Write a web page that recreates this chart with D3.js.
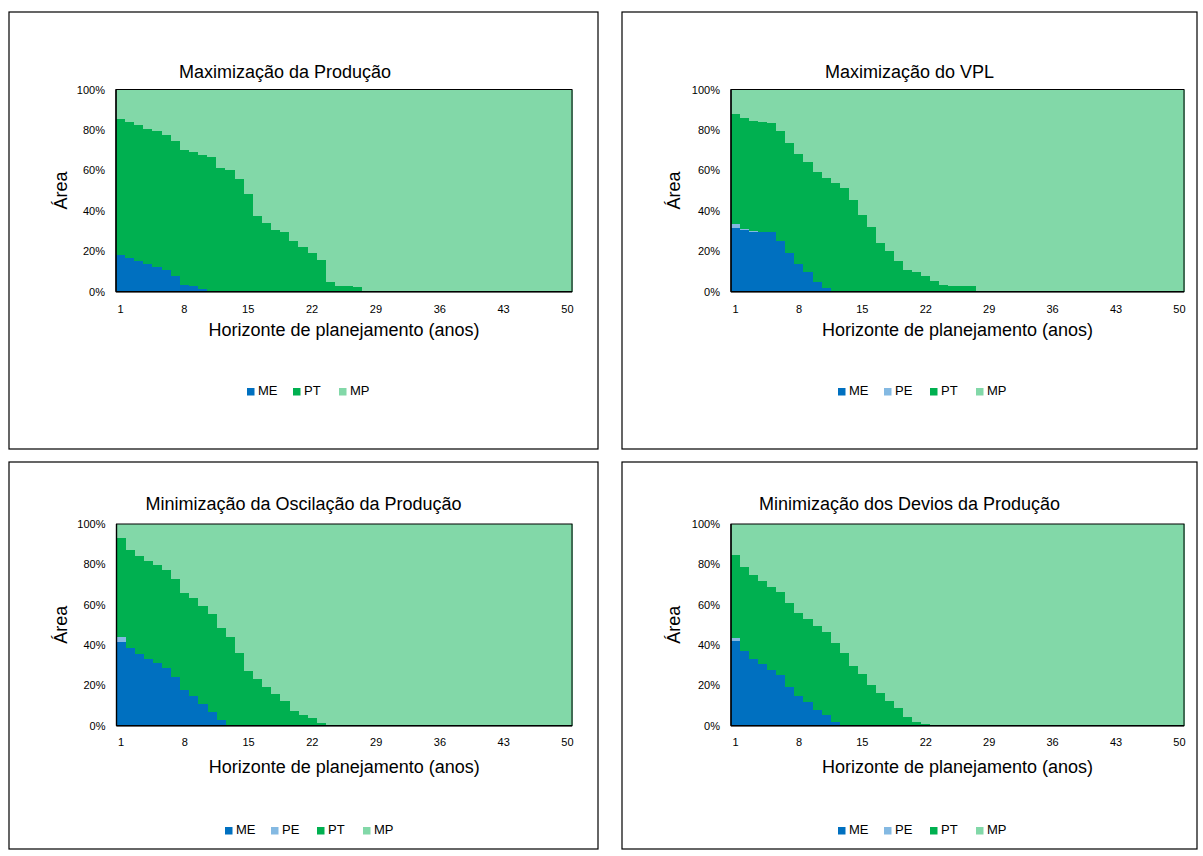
<!DOCTYPE html>
<html>
<head>
<meta charset="utf-8">
<script src="https://cdn.jsdelivr.net/npm/d3@7"></script>
<style>
  body { margin: 0; background: #fff; }
  svg { display: block; font-family: "Liberation Sans", Arial, sans-serif; }
</style>
</head>
<body>
<svg id="chart" width="1203" height="856"></svg>
<script>
// ---- data: share of area (%) per year of the planning horizon ----
const years = [1,2,3,4,5,6,7,8,9,10,11,12,13,14,15,16,17,18,19,20,21,22,23,24,25,
               26,27,28,29,30,31,32,33,34,35,36,37,38,39,40,41,42,43,44,45,46,47,48,49,50];
const xTickLabels = [1, 8, 15, 22, 29, 36, 43, 50];
const yTickValues = [0, 20, 40, 60, 80, 100];
const seriesNames = ["ME", "PE", "PT", "MP"];
const seriesColors = ["#0070C0", "#84B9E2", "#00B050", "#82D8A8"];

// Maximização da Produção
const prodME = [18.3,16.9,15.3,13.5,12.3,10.5,7.9,3.3,2.8,1.3,0,0,0,0,0,0,0,0,0,0,0,0,0,0,0,
                0,0,0,0,0,0,0,0,0,0,0,0,0,0,0,0,0,0,0,0,0,0,0,0,0];
const prodPT = [66.9,66.8,66.9,66.9,67.1,66.8,66.6,66.6,66.4,66.5,66.4,61.2,60.4,55.9,48.2,37.5,33.9,30.4,29.4,25.2,21.9,19.0,15.7,5.0,2.8,
                2.7,2.5,0,0,0,0,0,0,0,0,0,0,0,0,0,0,0,0,0,0,0,0,0,0,0];
const prodMP = [14.8,16.3,17.8,19.6,20.6,22.7,25.5,30.1,30.8,32.2,33.6,38.8,39.6,44.1,51.8,62.5,66.1,69.6,70.6,74.8,78.1,81.0,84.3,95.0,97.2,
                97.3,97.5,100,100,100,100,100,100,100,100,100,100,100,100,100,100,100,100,100,100,100,100,100,100,100];

// Maximização do VPL
const vplME = [31.6,30.3,29.7,29.3,29.3,25.2,18.9,13.5,9.6,4.6,2.0,0,0,0,0,0,0,0,0,0,0,0,0,0,0,
               0,0,0,0,0,0,0,0,0,0,0,0,0,0,0,0,0,0,0,0,0,0,0,0,0];
const vplPE = [1.8,0.8,0.2,0,0,0,0,0,0,0,0,0,0,0,0,0,0,0,0,0,0,0,0,0,0,
               0,0,0,0,0,0,0,0,0,0,0,0,0,0,0,0,0,0,0,0,0,0,0,0,0];
const vplPT = [54.4,54.6,54.3,54.6,54.1,54.4,54.4,54.4,54.5,54.4,54.0,53.7,51.2,45.3,37.9,31.8,24.1,19.9,15.2,10.7,9.9,7.8,5.4,3.2,2.7,
               2.7,2.7,0,0,0,0,0,0,0,0,0,0,0,0,0,0,0,0,0,0,0,0,0,0,0];
const vplMP = [12.2,14.3,15.8,16.1,16.6,20.4,26.7,32.1,35.9,41.0,44.0,46.3,48.8,54.7,62.1,68.2,75.9,80.1,84.8,89.3,90.1,92.2,94.6,96.8,97.3,
               97.3,97.3,100,100,100,100,100,100,100,100,100,100,100,100,100,100,100,100,100,100,100,100,100,100,100];

// Minimização da Oscilação da Produção
const oscME = [41.7,38.3,35.4,33.1,30.9,28.4,24.3,17.7,14.7,10.7,6.9,3.0,0,0,0,0,0,0,0,0,0,0,0,0,0,
               0,0,0,0,0,0,0,0,0,0,0,0,0,0,0,0,0,0,0,0,0,0,0,0,0];
const oscPE = [2.4,0.3,0,0,0,0,0,0,0,0,0,0,0,0,0,0,0,0,0,0,0,0,0,0,0,
               0,0,0,0,0,0,0,0,0,0,0,0,0,0,0,0,0,0,0,0,0,0,0,0,0];
const oscPT = [48.8,48.5,48.7,48.7,48.6,48.6,48.4,48.3,48.6,48.6,48.6,45.6,44.1,36.2,27.1,23.1,19.3,15.9,12.4,7.4,5.3,4.0,1.2,0,0,
               0,0,0,0,0,0,0,0,0,0,0,0,0,0,0,0,0,0,0,0,0,0,0,0,0];
const oscMP = [7.1,12.9,15.9,18.2,20.5,23.0,27.3,34.0,36.7,40.7,44.5,51.4,55.9,63.8,72.9,76.9,80.7,84.1,87.6,92.6,94.7,96.0,98.8,100,100,
               100,100,100,100,100,100,100,100,100,100,100,100,100,100,100,100,100,100,100,100,100,100,100,100,100];

// Minimização dos Devios da Produção
const devME = [42.1,37.2,32.9,30.4,27.6,25.1,19.3,14.7,11.6,7.9,5.1,1.8,0,0,0,0,0,0,0,0,0,0,0,0,0,
               0,0,0,0,0,0,0,0,0,0,0,0,0,0,0,0,0,0,0,0,0,0,0,0,0];
const devPE = [1.2,0,0,0,0,0,0,0,0,0,0,0,0,0,0,0,0,0,0,0,0,0,0,0,0,
               0,0,0,0,0,0,0,0,0,0,0,0,0,0,0,0,0,0,0,0,0,0,0,0,0];
const devPT = [41.3,41.6,41.8,41.3,41.3,41.2,41.4,41.2,41.3,41.5,41.3,39.0,36.0,29.6,25.6,20.2,16.0,12.2,8.6,4.1,2.0,0.8,0,0,0,
               0,0,0,0,0,0,0,0,0,0,0,0,0,0,0,0,0,0,0,0,0,0,0,0,0];
const devMP = [15.4,21.2,25.3,28.3,31.1,33.7,39.3,44.1,47.1,50.6,53.6,59.2,64.0,70.4,74.4,79.8,84.0,87.8,91.4,95.9,98.0,99.2,100,100,100,
               100,100,100,100,100,100,100,100,100,100,100,100,100,100,100,100,100,100,100,100,100,100,100,100,100];

// ---- panel layout ----
const panels = [
  { title: "Maximização da Produção", data: { ME: prodME, PT: prodPT, MP: prodMP },
    box: [9, 12, 589, 437], plot: [116, 89.5, 456, 202.2], titleX: 285,
    titleY: 73, yTitleX: 62, tickY: 309, axisTitleY: 331, legendY: 392, legendX: 247 },
  { title: "Maximização do VPL", data: { ME: vplME, PE: vplPE, PT: vplPT, MP: vplMP },
    box: [622, 12, 575, 437], plot: [731, 89.5, 453, 202.2], titleX: 909.5,
    titleY: 73, yTitleX: 675, tickY: 309, axisTitleY: 331, legendY: 392, legendX: 838 },
  { title: "Minimização da Oscilação da Produção", data: { ME: oscME, PE: oscPE, PT: oscPT, MP: oscMP },
    box: [9, 462, 589, 387], plot: [116.5, 524, 455.5, 201.7], titleX: 303.5,
    titleY: 505, yTitleX: 62, tickY: 742, axisTitleY: 768, legendY: 831, legendX: 225 },
  { title: "Minimização dos Devios da Produção", data: { ME: devME, PE: devPE, PT: devPT, MP: devMP },
    box: [622, 462, 575, 387], plot: [731, 524, 453, 201.7], titleX: 909.5,
    titleY: 505, yTitleX: 675, tickY: 742, axisTitleY: 768, legendY: 831, legendX: 838 }
];

const svg = d3.select("#chart");
const color = d3.scaleOrdinal().domain(seriesNames).range(seriesColors);

panels.forEach(p => {
  const [bx, by, bw, bh] = p.box;
  const [px, py, pw, ph] = p.plot;
  const keys = seriesNames.filter(k => p.data[k]);

  // outer frame
  svg.append("rect")
    .attr("x", bx).attr("y", by).attr("width", bw).attr("height", bh)
    .attr("fill", "#fff").attr("stroke", "#000").attr("stroke-width", 1.2);

  // title
  svg.append("text")
    .attr("x", p.titleX).attr("y", p.titleY)
    .attr("text-anchor", "middle").attr("dominant-baseline", "middle")
    .attr("font-size", 18).attr("fill", "#000")
    .text(p.title);

  const rows = years.map((yr, i) => {
    const r = { year: yr };
    keys.forEach(k => r[k] = p.data[k][i]);
    return r;
  });
  const stacked = d3.stack().keys(keys)(rows);

  const x = d3.scaleBand().domain(years).range([0, pw]).padding(0);
  const y = d3.scaleLinear().domain([0, 100]).range([ph, 0]);

  const g = svg.append("g").attr("transform", `translate(${px},${py})`);

  g.selectAll("g.layer")
    .data(stacked)
    .join("g")
      .attr("class", "layer")
      .attr("fill", d => color(d.key))
      .attr("shape-rendering", "crispEdges")
    .selectAll("rect")
    .data(d => d)
    .join("rect")
      .attr("x", d => x(d.data.year))
      .attr("width", x.bandwidth() + 1)
      .attr("y", d => y(d[1]))
      .attr("height", d => Math.max(0, y(d[0]) - y(d[1])));

  // plot frame and axis lines
  g.append("rect")
    .attr("x", 0).attr("y", 0).attr("width", pw).attr("height", ph)
    .attr("fill", "none").attr("stroke", "#000").attr("stroke-width", 1);
  g.append("line")
    .attr("x1", 0).attr("x2", pw).attr("y1", ph).attr("y2", ph)
    .attr("stroke", "#000").attr("stroke-width", 1.6);
  g.append("line")
    .attr("x1", 0).attr("x2", 0).attr("y1", 0).attr("y2", ph)
    .attr("stroke", "#000").attr("stroke-width", 1.4);

  // y axis
  const yAxis = g.append("g")
    .call(d3.axisLeft(y).tickValues(yTickValues).tickSize(0).tickPadding(11)
      .tickFormat(d => d + "%"));
  yAxis.select(".domain").remove();
  yAxis.selectAll("text").attr("font-size", 11).attr("fill", "#000")
    .attr("font-family", "Liberation Sans, Arial, sans-serif");

  // x axis
  const xAxis = svg.append("g")
    .attr("transform", `translate(${px},${p.tickY})`)
    .call(d3.axisBottom(x).tickValues(xTickLabels).tickSize(0).tickPadding(0));
  xAxis.select(".domain").remove();
  xAxis.selectAll("text").attr("font-size", 11).attr("fill", "#000")
    .attr("dy", "0.35em")
    .attr("font-family", "Liberation Sans, Arial, sans-serif");

  // axis titles
  svg.append("text")
    .attr("x", px + pw / 2).attr("y", p.axisTitleY)
    .attr("text-anchor", "middle").attr("dominant-baseline", "middle")
    .attr("font-size", 18).attr("fill", "#000")
    .text("Horizonte de planejamento (anos)");
  svg.append("text")
    .attr("transform", `translate(${p.yTitleX},${py + ph / 2}) rotate(-90)`)
    .attr("text-anchor", "middle").attr("dominant-baseline", "middle")
    .attr("font-size", 18).attr("fill", "#000")
    .text("Área");

  // legend
  const lg = svg.append("g").attr("transform", `translate(${p.legendX},${p.legendY})`);
  const item = lg.selectAll("g").data(keys).join("g")
    .attr("transform", (d, i) => `translate(${i * 46},0)`);
  item.append("rect")
    .attr("x", 0).attr("y", -4).attr("width", 7.5).attr("height", 7.5)
    .attr("fill", d => color(d));
  item.append("text")
    .attr("x", 11).attr("y", 0).attr("dominant-baseline", "middle")
    .attr("font-size", 13).attr("fill", "#000")
    .text(d => d);
});
</script>
</body>
</html>
